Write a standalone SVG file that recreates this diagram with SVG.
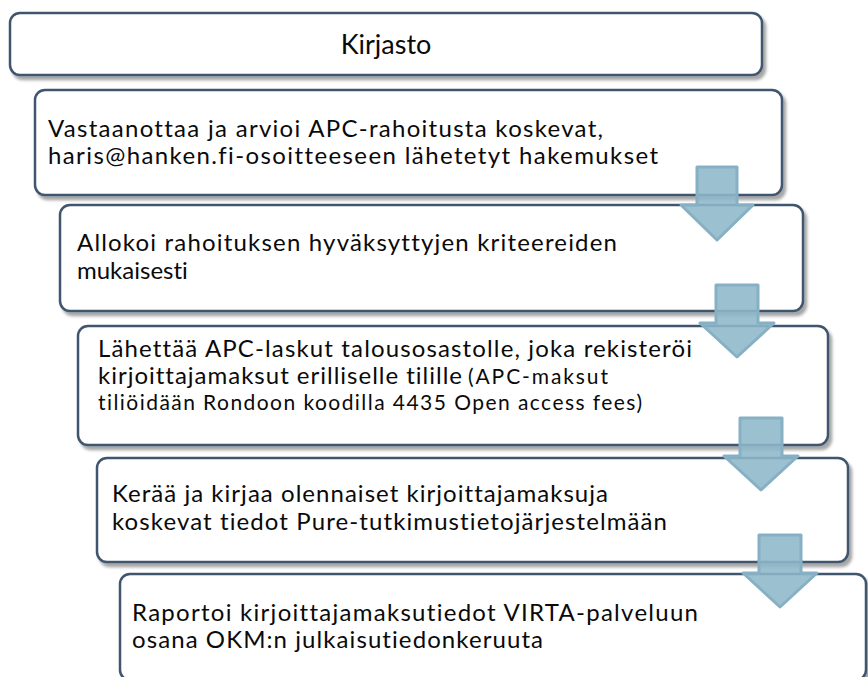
<svg xmlns="http://www.w3.org/2000/svg" width="868" height="677" viewBox="0 0 868 677">
<defs>
<filter id="sh" x="-5%" y="-10%" width="115%" height="130%">
<feDropShadow dx="3" dy="4" stdDeviation="1.5" flood-color="#000" flood-opacity="0.35"/>
</filter>
</defs>
<style>
.box{fill:#fff;stroke:#3f556e;stroke-width:2.5;filter:url(#sh)}
.t{font-family:Lato,"Open Sans","DejaVu Sans",sans-serif;font-size:24px;fill:#0a0a0a;font-variant-ligatures:none}
.s{font-size:21px}
.arr{fill:#8db7c9;fill-opacity:0.88;stroke:#86b0c3;stroke-width:3;stroke-linejoin:round}
</style>
<rect width="868" height="677" fill="#fff"/>
<g id="node-kirjasto">
<rect class="box" x="10" y="13" width="752" height="62" rx="10"/>
<text class="t" x="386" y="54" text-anchor="middle" style="font-size:27px">Kirjasto</text>
</g>
<g id="node-1">
<rect class="box" x="35" y="90" width="747" height="105" rx="10"/>
<text class="t"><tspan x="48" y="137" textLength="555">Vastaanottaa ja arvioi APC-rahoitusta koskevat,</tspan><tspan x="48" y="164" textLength="610">haris@hanken.fi-osoitteeseen lähetetyt hakemukset</tspan></text>
</g>
<g id="node-2">
<rect class="box" x="60" y="205" width="743" height="106" rx="10"/>
<text class="t"><tspan x="77" y="251" textLength="540">Allokoi rahoituksen hyväksyttyjen kriteereiden</tspan><tspan x="77" y="279">mukaisesti</tspan></text>
</g>
<g id="node-3">
<rect class="box" x="78" y="326" width="750" height="119" rx="10"/>
<text class="t"><tspan x="98" y="357" textLength="594">Lähettää APC-laskut talousosastolle, joka rekisteröi</tspan><tspan x="98" y="384" textLength="364">kirjoittajamaksut erilliselle tilille</tspan><tspan class="s" x="468" y="384" textLength="140">(APC-maksut</tspan><tspan class="s" x="98" y="410" textLength="544">tiliöidään Rondoon koodilla 4435 Open access fees)</tspan></text>
</g>
<g id="node-4">
<rect class="box" x="97" y="458" width="751" height="104" rx="10"/>
<text class="t"><tspan x="112" y="502" textLength="496">Kerää ja kirjaa olennaiset kirjoittajamaksuja</tspan><tspan x="112" y="530" textLength="555">koskevat tiedot Pure-tutkimustietojärjestelmään</tspan></text>
</g>
<g id="node-5">
<rect class="box" x="120" y="574" width="746" height="106" rx="10"/>
<text class="t"><tspan x="132" y="621" textLength="566">Raportoi kirjoittajamaksutiedot VIRTA-palveluun</tspan><tspan x="132" y="648" textLength="411">osana OKM:n julkaisutiedonkeruuta</tspan></text>
</g>
<g id="connectors">
<path class="arr" d="M697,167 H737 V205 H753 L717,240 L681,205 H697 Z"/>
<path class="arr" d="M716,285 H758 V323 H774 L737,357 L700,323 H716 Z"/>
<path class="arr" d="M740,418 H782 V456 H798 L761,490 L724,456 H740 Z"/>
<path class="arr" d="M759,535 H801 V573 H817 L780,607 L743,573 H759 Z"/>
</g>
</svg>
